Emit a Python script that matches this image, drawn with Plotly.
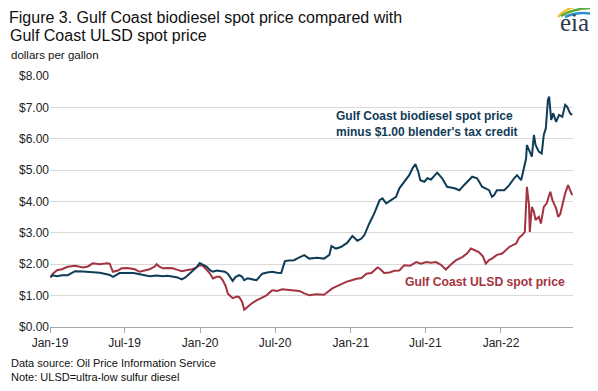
import plotly.graph_objects as go

ulsd_dates = ["2019-01-02","2019-01-08","2019-01-18","2019-01-30","2019-02-13","2019-03-03","2019-03-22","2019-04-03","2019-04-15","2019-05-02","2019-05-19","2019-05-26","2019-06-03","2019-06-15","2019-06-24","2019-07-09","2019-07-26","2019-08-07","2019-08-19","2019-08-31","2019-09-12","2019-09-17","2019-09-24","2019-10-02","2019-10-14","2019-10-26","2019-11-07","2019-11-17","2019-12-01","2019-12-13","2019-12-23","2019-12-31",
"2020-01-07","2020-01-17","2020-01-24","2020-02-01","2020-02-10","2020-02-18","2020-02-25","2020-03-03","2020-03-08","2020-03-15","2020-03-20","2020-03-30","2020-04-05","2020-04-12","2020-04-17","2020-04-25","2020-05-05","2020-05-17","2020-05-29","2020-06-10","2020-06-24","2020-07-06","2020-07-18","2020-07-30","2020-08-12","2020-08-29","2020-09-10","2020-09-22","2020-10-09","2020-10-28","2020-11-17","2020-12-04","2020-12-21",
"2021-01-03","2021-01-15","2021-01-27","2021-02-08","2021-02-20","2021-03-07","2021-03-14","2021-03-23","2021-04-05","2021-04-17","2021-04-29","2021-05-11","2021-05-25","2021-06-09","2021-06-21","2021-07-03","2021-07-15","2021-07-27","2021-08-08","2021-08-20","2021-09-02","2021-09-14","2021-09-29","2021-10-11","2021-10-20","2021-10-30","2021-11-08","2021-11-18","2021-11-25","2021-12-03","2021-12-10","2021-12-22",
"2022-01-04","2022-01-13","2022-01-21","2022-01-31","2022-02-07","2022-02-14","2022-02-21","2022-02-28","2022-03-05","2022-03-10","2022-03-12","2022-03-17","2022-03-22","2022-03-26","2022-04-03","2022-04-08","2022-04-15","2022-04-22","2022-05-01","2022-05-06","2022-05-15","2022-05-20","2022-05-25","2022-05-30","2022-06-06","2022-06-13","2022-06-18","2022-06-23"]
ulsd_values = [1.58,1.70,1.81,1.84,1.92,1.95,1.90,1.93,2.03,2.00,2.03,2.02,1.76,1.80,1.87,1.88,1.84,1.76,1.80,1.84,1.92,2.00,1.92,1.87,1.88,1.87,1.82,1.78,1.82,1.84,1.90,1.97,
1.96,1.81,1.72,1.55,1.60,1.60,1.49,1.30,1.07,0.98,0.92,0.97,0.95,0.80,0.55,0.64,0.75,0.85,0.93,1.01,1.17,1.15,1.20,1.18,1.17,1.15,1.07,1.01,1.04,1.03,1.23,1.33,1.44,
1.49,1.54,1.56,1.70,1.72,1.90,1.84,1.72,1.74,1.79,1.80,1.97,1.95,2.07,2.02,2.07,2.05,2.07,1.98,1.83,2.00,2.13,2.23,2.35,2.50,2.45,2.39,2.25,2.02,2.13,2.18,2.30,
2.34,2.45,2.55,2.62,2.66,2.85,2.92,3.03,4.47,3.90,3.03,3.83,3.67,3.41,3.51,3.30,3.83,3.94,4.31,4.04,3.78,3.51,3.60,3.88,4.26,4.52,4.35,4.20]

bio_dates = ["2019-01-02","2019-01-08","2019-01-18","2019-01-30","2019-02-13","2019-02-25","2019-03-03","2019-03-22","2019-04-15","2019-05-02","2019-05-19","2019-05-26","2019-06-03","2019-06-12","2019-06-19","2019-07-06","2019-07-23","2019-08-07","2019-08-19","2019-08-31","2019-09-17","2019-10-02","2019-10-14","2019-10-26","2019-11-07","2019-11-17","2019-11-26","2019-12-06","2019-12-16","2019-12-23","2019-12-31",
"2020-01-07","2020-01-17","2020-01-24","2020-02-01","2020-02-10","2020-02-18","2020-03-01","2020-03-08","2020-03-15","2020-03-20","2020-03-27","2020-04-05","2020-04-12","2020-04-17","2020-04-25","2020-05-05","2020-05-17","2020-05-24","2020-05-31","2020-06-12","2020-06-24","2020-07-06","2020-07-16","2020-07-20","2020-07-25","2020-08-04","2020-08-16","2020-08-29","2020-09-10","2020-09-22","2020-10-11","2020-10-28","2020-11-10","2020-11-15","2020-11-26","2020-12-08","2020-12-23",
"2021-01-05","2021-01-17","2021-01-27","2021-02-03","2021-02-15","2021-02-27","2021-03-12","2021-03-19","2021-03-28","2021-04-09","2021-04-21","2021-04-29","2021-05-11","2021-05-23","2021-05-31","2021-06-07","2021-06-14","2021-06-19","2021-06-29","2021-07-06","2021-07-15","2021-07-22","2021-07-30","2021-08-11","2021-08-23","2021-09-10","2021-09-22","2021-10-03","2021-10-13","2021-10-23","2021-11-04","2021-11-16","2021-12-03","2021-12-10","2021-12-15","2021-12-22",
"2022-01-09","2022-01-21","2022-02-02","2022-02-09","2022-02-19","2022-02-26","2022-03-03","2022-03-05","2022-03-12","2022-03-17","2022-03-22","2022-03-26","2022-04-03","2022-04-10","2022-04-15","2022-04-20","2022-04-25","2022-04-28","2022-05-03","2022-05-08","2022-05-15","2022-05-22","2022-05-30","2022-06-06","2022-06-11","2022-06-18","2022-06-23"]
bio_values = [1.60,1.65,1.62,1.65,1.65,1.72,1.78,1.77,1.76,1.73,1.68,1.66,1.60,1.68,1.72,1.72,1.72,1.68,1.66,1.62,1.64,1.62,1.63,1.60,1.58,1.52,1.58,1.70,1.82,1.90,2.04,
2.00,1.92,1.82,1.76,1.80,1.79,1.76,1.70,1.55,1.47,1.60,1.65,1.60,1.49,1.55,1.52,1.49,1.60,1.70,1.74,1.76,1.73,1.72,1.90,2.10,2.12,2.13,2.22,2.29,2.18,2.21,2.18,2.30,2.58,2.50,2.55,2.68,
2.90,2.75,2.82,2.93,3.30,3.62,4.04,4.10,3.94,4.04,4.15,4.42,4.63,4.84,5.06,5.19,4.95,4.68,4.63,4.74,4.70,4.82,4.92,4.74,4.47,4.42,4.36,4.52,4.65,4.79,4.74,4.47,4.36,4.15,4.20,4.36,
4.36,4.52,4.74,4.84,4.68,5.11,5.37,5.80,5.59,5.43,6.12,5.80,5.59,5.53,6.12,6.33,7.24,7.34,6.60,6.81,6.54,6.76,6.70,7.08,7.02,6.81,6.76]

tick_dates = ["2019-01-01","2019-07-01","2020-01-01","2020-07-01","2021-01-01","2021-07-01","2022-01-01"]
tick_labels = ["Jan-19","Jul-19","Jan-20","Jul-20","Jan-21","Jul-21","Jan-22"]
y_ticks = [0,1,2,3,4,5,6,7,8]
y_labels = ["$%.2f" % v for v in y_ticks]

BLUE = "#0f3c57"
RED = "#a33340"
FONT = "Liberation Sans, Arial, sans-serif"

# page body has an 8px margin: figure is sized/offset to compensate
OFF = 8
L, R, T, B = 50, 573, 76, 327
W, H = 598 - OFF, 391 - OFF
PW, PH = R - L, B - T

def px(x): return (x - L) / PW
def py(y): return (B - y) / PH

fig = go.Figure()
fig.add_trace(go.Scatter(x=ulsd_dates, y=ulsd_values, mode="lines",
                         line=dict(color=RED, width=2), hoverinfo="skip"))
fig.add_trace(go.Scatter(x=bio_dates, y=bio_values, mode="lines",
                         line=dict(color=BLUE, width=2), hoverinfo="skip"))

fig.update_layout(
    width=W, height=H,
    margin=dict(l=L - OFF, r=598 - R, t=T - OFF, b=391 - B, pad=0),
    paper_bgcolor="white", plot_bgcolor="white",
    showlegend=False,
    font=dict(family=FONT, size=12, color="#222222"),
    title=dict(text="Figure 3. Gulf Coast biodiesel spot price compared with",
               xref="container", yref="container", x=0, y=1, xanchor="left", yanchor="top",
               pad=dict(l=1, t=4), font=dict(size=16, color="#111111", family=FONT)),
    xaxis=dict(range=["2019-01-01", "2022-06-25"], tickvals=tick_dates, ticktext=tick_labels,
               showgrid=False, showline=True, linecolor="#a6a6a6", linewidth=1,
               ticks="outside", ticklen=5, tickcolor="#a6a6a6", tickfont=dict(size=12, color="#222222"),
               zeroline=False),
    yaxis=dict(range=[0, 8], tickvals=y_ticks, ticktext=y_labels, showgrid=True,
               gridcolor="#d9d9d9", gridwidth=1, zeroline=False, showline=False,
               ticks="", tickfont=dict(size=12, color="#222222")),
)

fig.add_annotation(xref="paper", yref="paper", x=px(9), y=py(36), xanchor="left", yanchor="middle",
                   text="Gulf Coast ULSD spot price", showarrow=False, align="left", borderpad=0,
                   font=dict(size=16, color="#111111", family=FONT))
fig.add_annotation(xref="paper", yref="paper", x=px(9), y=py(47), xanchor="left", yanchor="top",
                   text="dollars per gallon", showarrow=False, align="left",
                   font=dict(size=11.5, color="#111111", family=FONT))
fig.add_annotation(xref="paper", yref="paper", x=px(9), y=py(355), xanchor="left", yanchor="top",
                   text="Data source: Oil Price Information Service<br>Note: ULSD=ultra-low sulfur diesel",
                   showarrow=False, align="left", font=dict(size=11, color="#111111", family=FONT))
fig.add_annotation(x="2020-11-22", y=6.47, xanchor="left", yanchor="middle",
                   text="<b>Gulf Coast biodiesel spot price<br>minus $1.00 blender's tax credit</b>",
                   showarrow=False, align="left", font=dict(size=12, color=BLUE, family=FONT))
fig.add_annotation(x="2021-05-07", y=1.42, xanchor="left", yanchor="middle",
                   text="<b>Gulf Coast ULSD spot price</b>",
                   showarrow=False, align="left", font=dict(size=12.2, color=RED, family=FONT))

# eia logo
fig.add_annotation(xref="paper", yref="paper", x=px(574), y=py(38), xanchor="center", yanchor="bottom",
                   text="eia", showarrow=False, font=dict(size=25, color="#2b3a4a", family="Liberation Serif, DejaVu Serif, serif"))
arcs = [("#f2c12e", [(558, 17), (566, 8), (580, 5)]),
        ("#5aab3c", [(561, 16), (572, 9), (590, 8)]),
        ("#2f8fcb", [(565, 17), (578, 11), (594, 14)])]
for col, pts in arcs:
    (x0, y0), (x1, y1), (x2, y2) = pts
    path = "M %f,%f Q %f,%f %f,%f" % (px(x0), py(y0), px(x1), py(y1), px(x2), py(y2))
    fig.add_shape(type="path", xref="paper", yref="paper", path=path,
                  line=dict(color=col, width=2.5))

fig.write_html("out.html")
